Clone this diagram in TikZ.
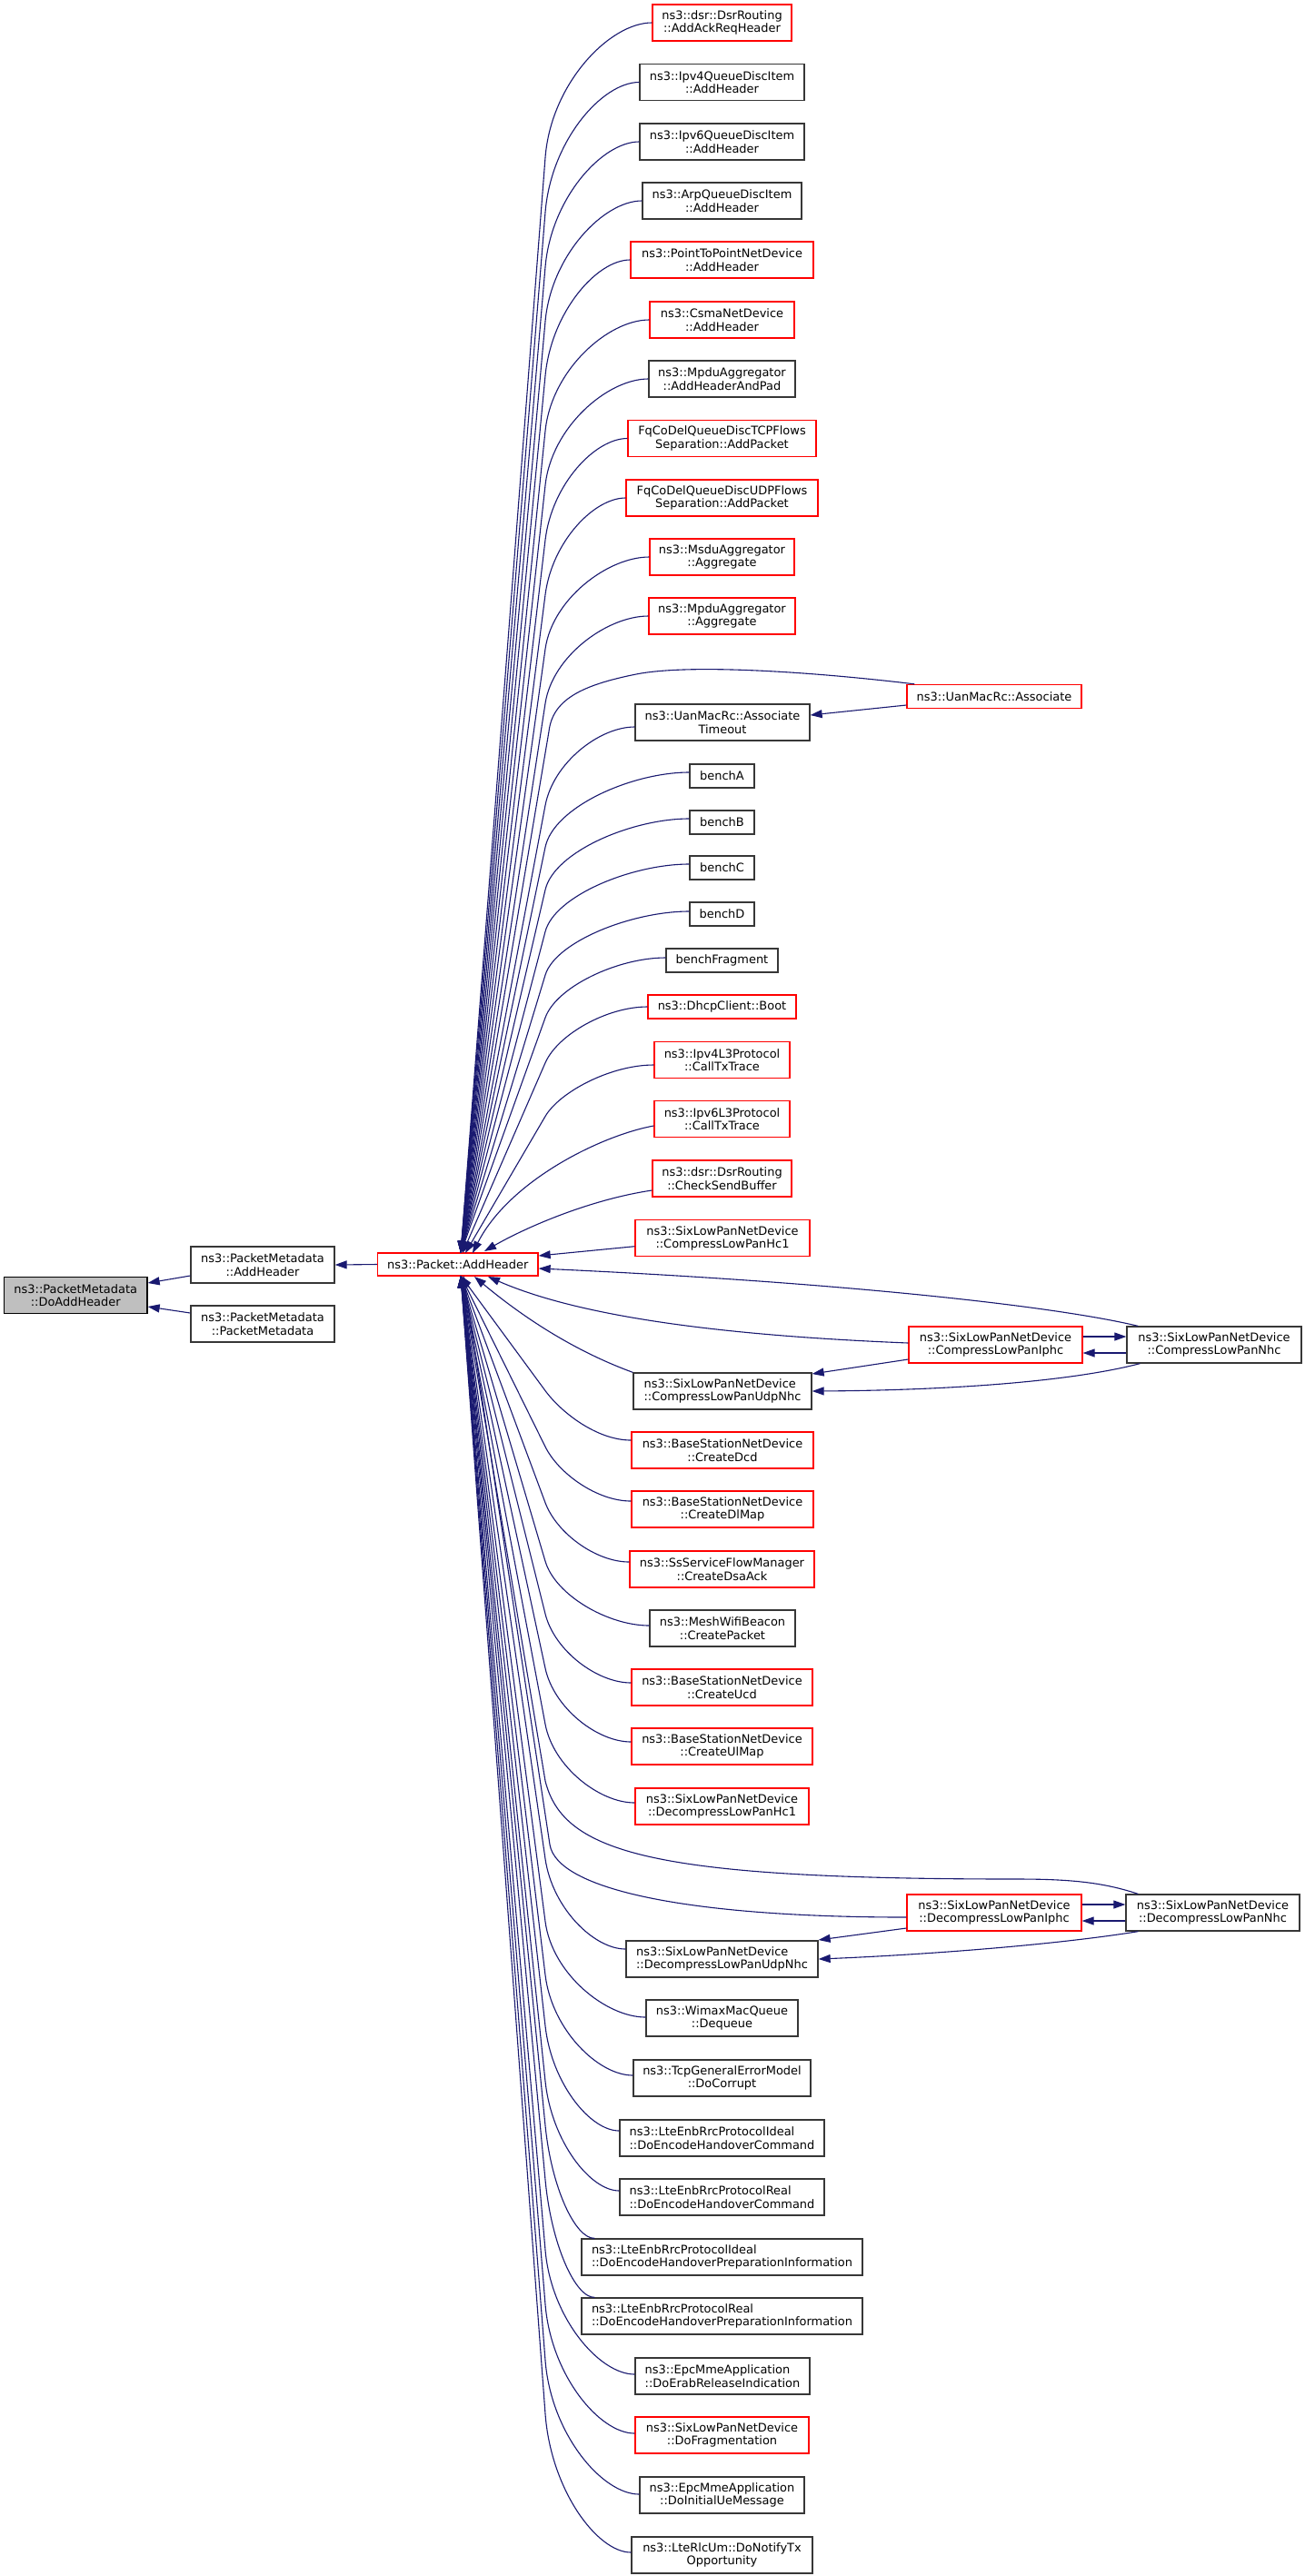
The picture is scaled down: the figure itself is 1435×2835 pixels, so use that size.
\documentclass[tikz,border=0pt]{standalone}
\usepackage{fontspec}
\setmainfont{DejaVu Sans}
\usetikzlibrary{arrows.meta,calc}
\definecolor{mblue}{RGB}{25,25,112}
\definecolor{bgray}{RGB}{55,55,55}
\definecolor{fillg}{RGB}{191,191,191}
\newcommand{\nfont}{\fontsize{12.95}{14.5}\selectfont}
% upper fan edge: start coord, start y, start x, target x (target y = 1379)
\newcommand{\fanup}[4]{%
  \pgfmathsetmacro\fh{40+0.08*(1379-#2)}%
  \pgfmathsetmacro\fk{#2+\fh}%
  \pgfmathsetmacro\fc{#3-0.4*(#3-600)}%
  \pgfmathsetmacro\fl{100*veclen((600-#4)/100,(\fk-1379)/100)}%
  \pgfmathsetmacro\fa{600+0.55*\fh*((600-#4)/\fl)}%
  \pgfmathsetmacro\fb{\fk+0.55*\fh*((\fk-1379)/\fl)}%
  \draw[edge] (#1) .. controls (\fc,#2) and (\fa,\fb) .. (600,\fk) -- (#4,1379);
}
% lower fan edge: target y = 1404
\newcommand{\fandn}[4]{%
  \pgfmathsetmacro\fh{40+0.08*(#2-1404)}%
  \pgfmathsetmacro\fk{#2-\fh}%
  \pgfmathsetmacro\fc{#3-0.4*(#3-600)}%
  \pgfmathsetmacro\fl{100*veclen((600-#4)/100,(\fk-1404)/100)}%
  \pgfmathsetmacro\fa{600+0.55*\fh*((600-#4)/\fl)}%
  \pgfmathsetmacro\fb{\fk+0.55*\fh*((\fk-1404)/\fl)}%
  \draw[edge] (#1) .. controls (\fc,#2) and (\fa,\fb) .. (600,\fk) -- (#4,1404);
}
\tikzset{
  box/.style={draw, line width=1.3pt, inner sep=0pt, align=center, font=\nfont, minimum height=40pt, text=black},
  rbox/.style={box, draw=red},
  kbox/.style={box, draw=bgray},
  one/.style={minimum height=26pt},
  edge/.style={draw=mblue, line width=1.1pt, -{Triangle[length=13pt,width=9pt]}}
}
\begin{document}
\begin{tikzpicture}[x=1pt,y=-1pt]
\fill[white] (0,0) rectangle (1435,2835);
\useasboundingbox (0,0) rectangle (1435,2835);

% ---- left part
\node[box, draw=black, fill=fillg, minimum width=157.5pt] (doa) at (83.25,1425.5) {ns3::PacketMetadata\\::DoAddHeader};
\node[kbox, minimum width=158pt] (pma) at (289,1392) {ns3::PacketMetadata\\::AddHeader};
\node[kbox, minimum width=158pt] (pmp) at (289,1457) {ns3::PacketMetadata\\::PacketMetadata};
\node[rbox, minimum height=25pt, minimum width=176.4pt] (pk) at (503.8,1391.5) {ns3::Packet::AddHeader};

% ---- column of callers
\node[rbox, minimum width=153pt] (n1) at (794.5,25) {ns3::dsr::DsrRouting\\::AddAckReqHeader};
\node[kbox, minimum width=181pt] (n2) at (794.5,90.5) {ns3::Ipv4QueueDiscItem\\::AddHeader};
\node[kbox, minimum width=181pt] (n3) at (794.5,156) {ns3::Ipv6QueueDiscItem\\::AddHeader};
\node[kbox, minimum width=175pt] (n4) at (794.5,221) {ns3::ArpQueueDiscItem\\::AddHeader};
\node[rbox, minimum width=201pt] (n5) at (794.5,286) {ns3::PointToPointNetDevice\\::AddHeader};
\node[rbox, minimum width=159pt] (n6) at (794.5,352) {ns3::CsmaNetDevice\\::AddHeader};
\node[kbox, minimum width=161pt] (n7) at (794.5,417) {ns3::MpduAggregator\\::AddHeaderAndPad};
\node[rbox, minimum width=207pt] (n8) at (794.5,482.5) {FqCoDelQueueDiscTCPFlows\\Separation::AddPacket};
\node[rbox, minimum width=211pt] (n9) at (794.5,548) {FqCoDelQueueDiscUDPFlows\\Separation::AddPacket};
\node[rbox, minimum width=159pt] (n10) at (794.5,613) {ns3::MsduAggregator\\::Aggregate};
\node[rbox, minimum width=161pt] (n11) at (794.5,678) {ns3::MpduAggregator\\::Aggregate};
\node[rbox, one, minimum width=192pt] (assoc) at (1094,766.5) {ns3::UanMacRc::Associate};
\node[kbox, minimum width=192pt] (tmo) at (795,795) {ns3::UanMacRc::Associate\\Timeout};
\node[kbox, one, minimum width=71pt] (bA) at (794.5,854) {benchA};
\node[kbox, one, minimum width=71pt] (bB) at (794.5,905) {benchB};
\node[kbox, one, minimum width=71pt] (bC) at (794.5,955) {benchC};
\node[kbox, one, minimum width=71pt] (bD) at (794.5,1006) {benchD};
\node[kbox, one, minimum width=123pt] (bF) at (794.5,1057) {benchFragment};
\node[rbox, one, minimum width=163pt] (dhcp) at (794.5,1108) {ns3::DhcpClient::Boot};
\node[rbox, minimum width=149pt] (v4) at (794.5,1166.5) {ns3::Ipv4L3Protocol\\::CallTxTrace};
\node[rbox, minimum width=149pt] (v6) at (794.5,1231.5) {ns3::Ipv6L3Protocol\\::CallTxTrace};
\node[rbox, minimum width=153pt] (csb) at (794.5,1297) {ns3::dsr::DsrRouting\\::CheckSendBuffer};
\node[rbox, minimum width=192pt] (hc1) at (795,1362.7) {ns3::SixLowPanNetDevice\\::CompressLowPanHc1};
\node[rbox, minimum width=191pt] (iphc) at (1095.5,1480) {ns3::SixLowPanNetDevice\\::CompressLowPanIphc};
\node[kbox, minimum width=192pt] (nhc) at (1336,1480) {ns3::SixLowPanNetDevice\\::CompressLowPanNhc};
\node[kbox, align=left, minimum width=196pt] (udp) at (795,1531) {ns3::SixLowPanNetDevice\\::CompressLowPanUdpNhc};
\node[rbox, minimum width=200pt] (dcd) at (795,1596) {ns3::BaseStationNetDevice\\::CreateDcd};
\node[rbox, minimum width=200pt] (dlm) at (795,1661) {ns3::BaseStationNetDevice\\::CreateDlMap};
\node[rbox, minimum width=203pt] (dsa) at (794.5,1727) {ns3::SsServiceFlowManager\\::CreateDsaAck};
\node[kbox, minimum width=160pt] (mesh) at (795,1792) {ns3::MeshWifiBeacon\\::CreatePacket};
\node[rbox, minimum width=199pt] (ucd) at (794.5,1857) {ns3::BaseStationNetDevice\\::CreateUcd};
\node[rbox, minimum width=199pt] (ulm) at (794.5,1922) {ns3::BaseStationNetDevice\\::CreateUlMap};
\node[rbox, minimum width=191pt] (dhc1) at (794.5,1988) {ns3::SixLowPanNetDevice\\::DecompressLowPanHc1};
\node[rbox, minimum width=192pt] (diphc) at (1094,2105) {ns3::SixLowPanNetDevice\\::DecompressLowPanIphc};
\node[kbox, minimum width=191pt] (dnhc) at (1334.5,2105) {ns3::SixLowPanNetDevice\\::DecompressLowPanNhc};
\node[kbox, align=left, minimum width=211pt] (dudp) at (794.5,2156) {ns3::SixLowPanNetDevice\\::DecompressLowPanUdpNhc};
\node[kbox, minimum width=167pt] (wmx) at (794.5,2221) {ns3::WimaxMacQueue\\::Dequeue};
\node[kbox, minimum width=195pt] (tcp) at (794.5,2287) {ns3::TcpGeneralErrorModel\\::DoCorrupt};
\node[kbox, align=left, minimum width=225pt] (ihc) at (794.5,2353) {ns3::LteEnbRrcProtocolIdeal\\::DoEncodeHandoverCommand};
\node[kbox, align=left, minimum width=225pt] (rhc) at (794.5,2418) {ns3::LteEnbRrcProtocolReal\\::DoEncodeHandoverCommand};
\node[kbox, align=left, minimum width=309pt] (ipi) at (794.5,2484) {ns3::LteEnbRrcProtocolIdeal\\::DoEncodeHandoverPreparationInformation};
\node[kbox, align=left, minimum width=309pt] (rpi) at (794.5,2549) {ns3::LteEnbRrcProtocolReal\\::DoEncodeHandoverPreparationInformation};
\node[kbox, align=left, minimum width=192pt] (erab) at (795,2615) {ns3::EpcMmeApplication\\::DoErabReleaseIndication};
\node[rbox, minimum width=191pt] (frag) at (794.5,2680) {ns3::SixLowPanNetDevice\\::DoFragmentation};
\node[kbox, minimum width=181pt] (iue) at (794.5,2746) {ns3::EpcMmeApplication\\::DoInitialUeMessage};
\node[kbox, minimum width=199pt] (ntx) at (794.5,2812) {ns3::LteRlcUm::DoNotifyTx\\Opportunity};

% ---- left edges
\draw[edge] (pk.west) -- (pma.east);
\draw[edge] ($(pma.west)+(0,12)$) -- ($(doa.east)+(0,-13.5)$);
\draw[edge] ($(pmp.west)+(0,-12)$) -- ($(doa.east)+(0,12.5)$);

% ---- upper fan
\fanup{n1.west}{25}{718}{507}
\fanup{n2.west}{90.5}{704}{507}
\fanup{n3.west}{156}{704}{507}
\fanup{n4.west}{221}{707}{507}
\fanup{n5.west}{286}{694}{507}
\fanup{n6.west}{352}{715}{507}
\fanup{n7.west}{417}{714}{507}
\fanup{n8.west}{482.5}{691}{507}
\fanup{n9.west}{548}{689}{507}
\fanup{n10.west}{613}{715}{507}
\fanup{n11.west}{678}{714}{507}
\fanup{$(tmo.west)+(0,5)$}{800}{699}{507}
\fanup{$(bA.west)+(0,-4)$}{850}{759}{507}
\fanup{$(bB.west)+(0,-4)$}{901}{759}{507}
\fanup{$(bC.west)+(0,-4)$}{951}{759}{507}
\fanup{$(bD.west)+(0,-3)$}{1003}{759}{507}
\fanup{$(bF.west)+(0,-3)$}{1054}{733}{507}
\fanup{dhcp.west}{1108}{713}{509}
\fanup{$(v4.west)+(0,5.5)$}{1172}{720}{512}
\draw[edge] ($(v6.west)+(0,7.5)$) .. controls (660,1250) and (560,1300) .. (520,1379);
\draw[edge] ($(csb.west)+(0,13)$) .. controls (650,1320) and (580,1350) .. (533,1377);
\draw[edge] ($(assoc.north west)+(9,0)$) .. controls (900,740) and (760,730) .. (700,742) .. controls (640,754) and (608,770) .. (604,805) -- (507,1379);
\draw[edge] ($(assoc.west)+(0,9.5)$) -- ($(tmo.east)+(0,-8)$);

% ---- compress group
\draw[edge] ($(hc1.west)+(0,9)$) -- ($(pk.east)+(0,-9.5)$);
\draw[edge] ($(nhc.north west)+(13,0)$) .. controls (1150,1435) and (900,1410) .. ($(pk.east)+(0,4.5)$);
\draw[edge] ($(iphc.west)+(0,-2)$) .. controls (800,1470) and (640,1450) .. (537,1405);
\draw[edge] (udp.north west) .. controls (660,1497) and (600,1470) .. (522,1405);
\draw[edge] ($(iphc.east)+(0,-9)$) -- ($(nhc.west)+(0,-9)$);
\draw[edge] ($(nhc.west)+(0,9)$) -- ($(iphc.east)+(0,9)$);
\draw[edge] ($(iphc.west)+(0,16)$) -- ($(udp.east)+(0,-19)$);
\draw[edge] ($(nhc.south west)+(15,0)$) .. controls (1180,1520) and (1050,1530) .. (udp.east);

% ---- lower fan
\fandn{$(dcd.west)+(0,-11)$}{1585}{695}{507}
\fandn{$(dlm.west)+(0,-9)$}{1652}{695}{507}
\fandn{$(dsa.west)+(0,-8)$}{1719}{693}{507}
\fandn{$(mesh.west)+(0,-3)$}{1789}{715}{507}
\fandn{$(ucd.west)+(0,-5)$}{1852}{695}{507}
\fandn{$(ulm.west)+(0,-5)$}{1917}{695}{507}
\fandn{$(dhc1.west)+(0,-4)$}{1984}{699}{507}
\fandn{$(dudp.west)+(0,-11)$}{2145}{689}{507}
\fandn{$(wmx.west)+(0,-1)$}{2220}{711}{507}
\fandn{$(tcp.west)+(0,-3)$}{2284}{697}{507}
\fandn{$(ihc.west)+(0,-8)$}{2345}{682}{507}
\fandn{$(rhc.west)+(0,-7)$}{2411}{682}{507}
\fandn{$(ipi.north west)+(15,0)$}{2464}{655}{507}
\fandn{$(rpi.north west)+(15,0)$}{2529}{655}{507}
\fandn{$(erab.west)+(0,-2)$}{2613}{699}{507}
\fandn{$(frag.west)+(0,-2)$}{2678}{699}{507}
\fandn{$(iue.west)+(0,-1)$}{2745}{704}{507}
\fandn{$(ntx.west)+(0,-3)$}{2809}{695}{507}

% ---- decompress group
\draw[edge] ($(diphc.west)+(0,5)$) .. controls (760,2110) and (613,2080) .. (605,2030) -- (510,1404);
\draw[edge] ($(dnhc.north west)+(14,0)$) .. controls (1215,2072) and (1180,2068) .. (1120,2068) .. controls (720,2068) and (620,2040) .. (600,1960) -- (507,1404);
\draw[edge] ($(diphc.east)+(0,-9)$) -- ($(dnhc.west)+(0,-9)$);
\draw[edge] ($(dnhc.west)+(0,9)$) -- ($(diphc.east)+(0,9)$);
\draw[edge] ($(diphc.west)+(0,17)$) -- ($(dudp.east)+(0,-21)$);
\draw[edge] ($(dnhc.south west)+(14,0)$) .. controls (1150,2142) and (1000,2152) .. (dudp.east);
\end{tikzpicture}
\end{document}
